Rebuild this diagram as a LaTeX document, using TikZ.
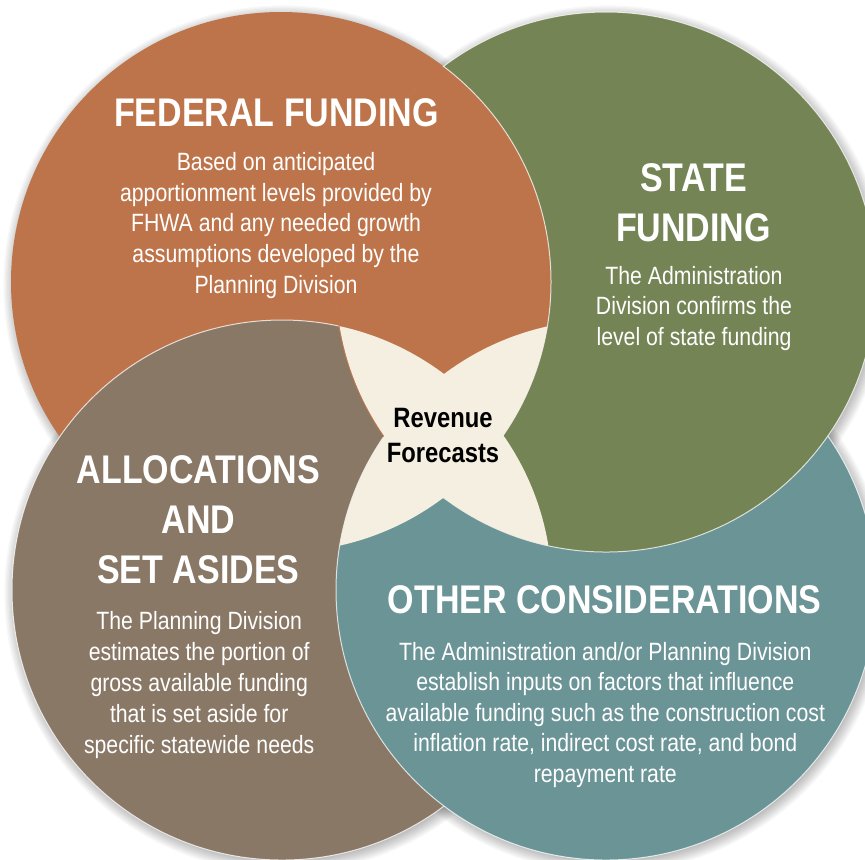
\documentclass[tikz,border=0pt]{standalone}
\usepackage{fontspec}
\setmainfont{Liberation Sans}[FakeStretch=0.85]
\definecolor{fedc}{HTML}{BE744A}
\definecolor{statec}{HTML}{748455}
\definecolor{allocc}{HTML}{8A7867}
\definecolor{otherc}{HTML}{6B9497}
\definecolor{creamc}{HTML}{F4EFE1}
\tikzset{
  disc/.style={line width=0.5pt, draw=white, draw opacity=0.75},
  shade ring/.style={fill=black, fill opacity=0.028},
  title/.style={text=white, font=\bfseries\fontsize{20}{25}\selectfont, align=center, anchor=base, inner sep=0pt},
  body/.style={text=white, font=\fontsize{12.5}{15.35}\selectfont, align=center, anchor=base, inner sep=0pt},
  centre/.style={text=black, font=\bfseries\fontsize{14}{17.85}\selectfont, align=center, anchor=base, inner sep=0pt}
}
\begin{document}
\begin{tikzpicture}[x=0.5pt, y=-0.5pt]
\useasboundingbox (0,0) rectangle (865,859);
\fill[white] (0,0) rectangle (865,859);
\coordinate (O) at (281,282);
\coordinate (G) at (606,282);
\coordinate (B) at (282,590);
\coordinate (T) at (606,590);
% soft drop shadows
\foreach \cx/\cy in {281/282, 606/282, 282/590, 606/590}{
  \foreach \k in {0,...,9}{
    \path[shade ring] (\cx+2,\cy+3) circle (268+1.3*\k);
  }
}
% circles (cyclic overlap: orange < brown < teal < green < orange)
\path[fill=fedc] (O) circle (270);
\path[fill=allocc, disc] (B) circle (270);
\path[fill=otherc, disc] (T) circle (270);
\path[fill=statec, disc] (G) circle (270);
\begin{scope}
  \clip (G) circle (271);
  \path[fill=fedc, disc] (O) circle (270);
\end{scope}
% central region
\begin{scope}
  \clip (B) circle (270);
  \fill[creamc] (G) circle (270);
\end{scope}
\begin{scope}
  \clip (O) circle (270);
  \fill[creamc] (T) circle (270);
\end{scope}
% texts (base anchor = baseline of the last line)
\node[title] (fedT) at (276.5,126.7) {FEDERAL FUNDING};
\node[body] (fedB) at (276,293.3) {Based on anticipated\\apportionment levels provided by\\FHWA and any needed growth\\assumptions developed by the\\Planning Division};
\node[title] (stT) at (693.5,241.7) {STATE\\FUNDING};
\node[body, font=\fontsize{12.5}{15.25}\selectfont] (stB) at (694,345) {The Administration\\Division confirms the\\level of state funding};
\node[centre] (rev) at (443,462.7) {Revenue\\Forecasts};
\node[title] (alT) at (198.3,583) {ALLOCATIONS\\AND\\SET ASIDES};
\node[body, font=\fontsize{12.5}{15.5}\selectfont] (alB) at (199.2,753.3) {The Planning Division\\estimates the portion of\\gross available funding\\that is set aside for\\specific statewide needs};
\node[title] (otT) at (604.7,613.3) {OTHER CONSIDERATIONS};
\node[body, font=\fontsize{12.5}{15.25}\selectfont] (otB) at (605.3,782) {The Administration and/or Planning Division\\establish inputs on factors that influence\\available funding such as the construction cost\\inflation rate, indirect cost rate, and bond\\repayment rate};
\end{tikzpicture}
\end{document}
